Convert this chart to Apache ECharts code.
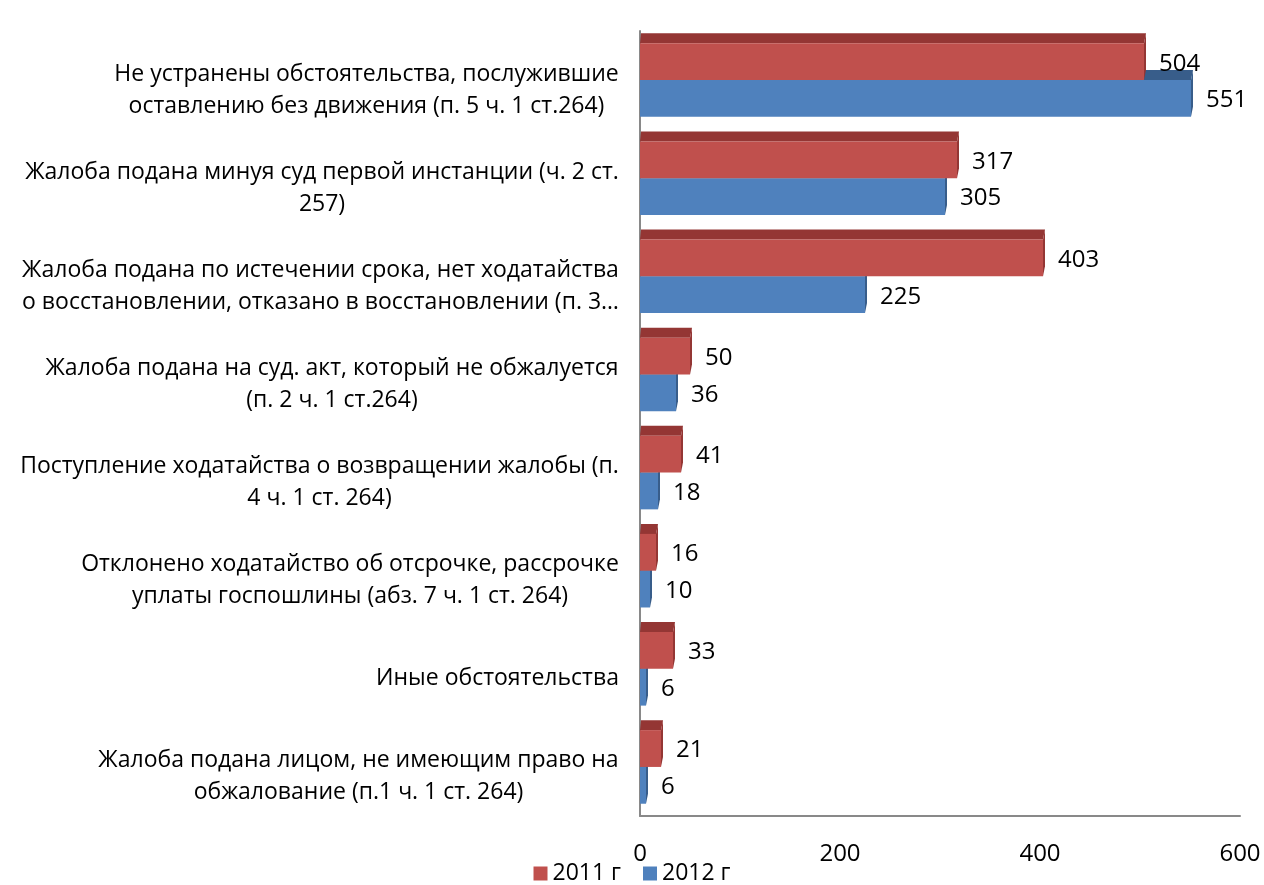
<!DOCTYPE html>
<html><head><meta charset="utf-8">
<script src="https://cdn.jsdelivr.net/npm/echarts@6/dist/echarts.min.js"></script>
<style>html,body{margin:0;padding:0;background:#fff}#c{width:1264px;height:885px}</style>
</head><body><div id="c"></div>
<script>
var categories = [
  "Не устранены обстоятельства, послужившие\nоставлению без движения (п. 5 ч. 1 ст.264)",
  "Жалоба подана минуя суд первой инстанции (ч. 2 ст.\n257)",
  "Жалоба подана по истечении срока, нет ходатайства\nо восстановлении, отказано в восстановлении (п. 3…",
  "Жалоба подана на суд. акт, который не обжалуется\n(п. 2 ч. 1 ст.264)",
  "Поступление ходатайства о возвращении жалобы (п.\n4 ч. 1 ст. 264)",
  "Отклонено ходатайство об отсрочке, рассрочке\nуплаты госпошлины (абз. 7 ч. 1 ст. 264)",
  "Иные обстоятельства",
  "Жалоба подана лицом, не имеющим право на\nобжалование (п.1 ч. 1 ст. 264)"
];
var values2011 = [504, 317, 403, 50, 41, 16, 33, 21];
var values2012 = [551, 305, 225, 36, 18, 10, 6, 6];
var xTicks = [0, 200, 400, 600];

var FONT_FAMILY = '"Open Sans", "Liberation Sans", sans-serif';
var FS = 23;
var NUM_FS = 24;

// measure label widths so each label block is right-aligned while its lines are centered
var ctx = document.createElement('canvas').getContext('2d');
ctx.font = FS + 'px ' + FONT_FAMILY;
var rich = {};
categories.forEach(function (c, i) {
  var w = 0;
  c.split('\n').forEach(function (l) { w = Math.max(w, ctx.measureText(l).width); });
  rich['c' + i] = { width: Math.ceil(w) + 2, align: 'center', fontSize: FS, fontFamily: FONT_FAMILY, color: '#000', lineHeight: 32 };
});

function makeRender(idx, front, top) {
  return function (params, api) {
    var val = api.value(0), cat = api.value(1);
    var band = api.size([0, 1])[1];
    var bw = band * 0.375;
    var p0 = api.coord([0, cat]);
    var p1 = api.coord([val, cat]);
    var x0 = p0[0], x1 = p1[0], yc = p0[1];
    var yTop = idx === 0 ? yc - bw : yc;
    var d = 10, dx = 2;
    return {
      type: 'group',
      children: [
        { type: 'polygon', shape: { points: [[x0, yTop], [x1, yTop], [x1 + dx, yTop - d], [x0 + 1, yTop - d]] }, style: { fill: top } },
        { type: 'polygon', shape: { points: [[x1, yTop], [x1 + dx, yTop - d], [x1 + dx, yTop + bw - d], [x1, yTop + bw]] }, style: { fill: top } },
        { type: 'rect', shape: { x: x0, y: yTop, width: x1 - x0, height: bw }, style: { fill: front } },
        { type: 'text', style: { x: x1 + 15, y: yTop + bw / 2 + 2, text: String(val), fill: '#000', font: NUM_FS + 'px ' + FONT_FAMILY, textVerticalAlign: 'middle', textAlign: 'left' } }
      ]
    };
  };
}

var chart = echarts.init(document.getElementById('c'), null, { renderer: 'canvas' });
chart.setOption({
  animation: false,
  legend: {
    top: 862, left: 'center', icon: 'rect', itemWidth: 14, itemHeight: 14, itemGap: 22, padding: 0,
    textStyle: { fontSize: FS, fontFamily: FONT_FAMILY, color: '#000' },
    data: ['2011 г', '2012 г']
  },
  grid: { left: 640, right: 24, top: 31, bottom: 69 },
  xAxis: {
    type: 'value', min: 0, max: 600, interval: 200,
    axisLine: { show: true, lineStyle: { color: '#898989', width: 2 } },
    axisTick: { show: false },
    splitLine: { show: false },
    axisLabel: { fontSize: NUM_FS, fontFamily: FONT_FAMILY, color: '#000', margin: 26,
      formatter: function (v) { return xTicks.indexOf(v) >= 0 ? String(v) : ''; } }
  },
  yAxis: {
    type: 'category', inverse: true, data: categories,
    axisLine: { show: true, lineStyle: { color: '#898989', width: 2 } },
    axisTick: { show: false },
    axisLabel: {
      margin: 20, align: 'right', padding: [20, 0, 0, 0],
      formatter: function (v, i) {
        return v.split('\n').map(function (l) { return '{c' + i + '|' + l + '}'; }).join('\n');
      },
      rich: rich
    }
  },
  series: [
    { name: '2012 г', type: 'custom', itemStyle: { color: '#4F81BD' }, z: 2,
      renderItem: makeRender(1, '#4F81BD', '#385D8A'),
      encode: { x: 0, y: 1 },
      data: values2012.map(function (v, i) { return [v, i]; }) },
    { name: '2011 г', type: 'custom', itemStyle: { color: '#C0504D' }, z: 3,
      renderItem: makeRender(0, '#C0504D', '#943634'),
      encode: { x: 0, y: 1 },
      data: values2011.map(function (v, i) { return [v, i]; }) }
  ]
});
</script></body></html>
